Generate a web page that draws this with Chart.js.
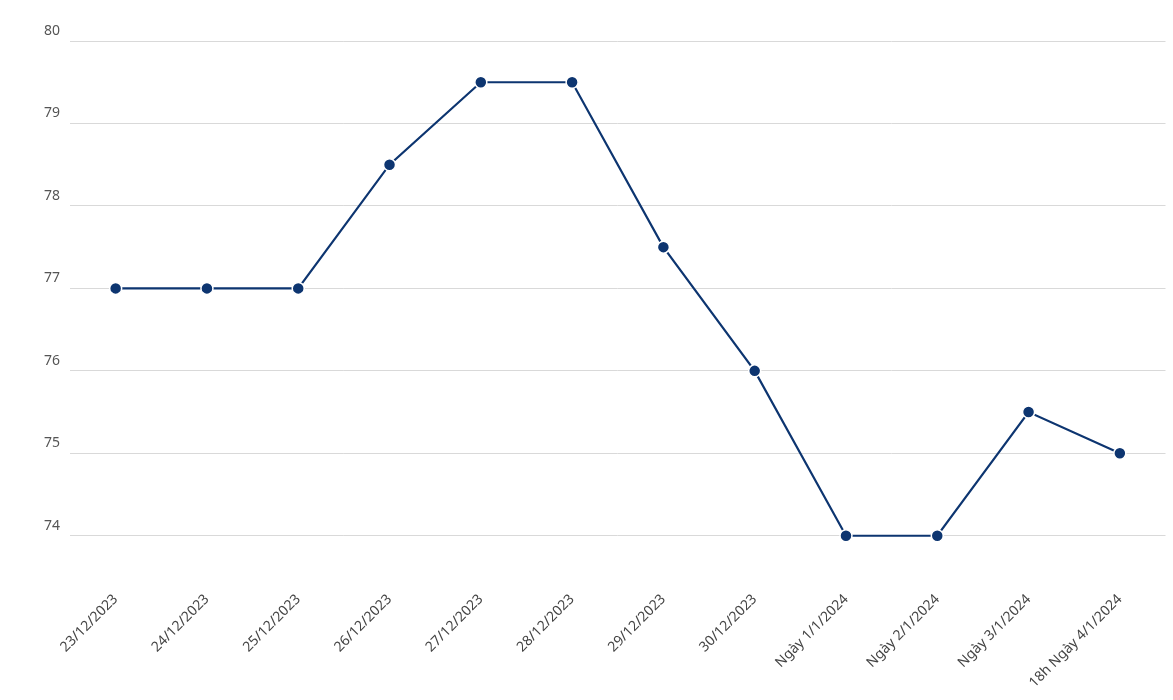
<!DOCTYPE html>
<html><head><meta charset="utf-8">
<script src="https://cdn.jsdelivr.net/npm/chart.js@4"></script>
<style>html,body{margin:0;padding:0;background:#fff}#w{width:1173px;height:700px}</style>
</head><body><div id="w"><canvas id="c"></canvas></div>
<script>
const categories=["23/12/2023","24/12/2023","25/12/2023","26/12/2023","27/12/2023","28/12/2023","29/12/2023","30/12/2023","Ngày 1/1/2024","Ngày 2/1/2024","Ngày 3/1/2024","18h Ngày 4/1/2024"];
const values=[77,77,77,78.5,79.5,79.5,77.5,76,74,74,75.5,75];
const yTicks=[74,75,76,77,78,79,80];
new Chart(document.getElementById('c'),{
type:'line',
data:{labels:categories,datasets:[{data:values,borderColor:'#0d3570',borderWidth:2.2,pointBackgroundColor:'#0d3570',pointBorderColor:'#fff',pointBorderWidth:1.5,pointRadius:6,tension:0}]},
options:{responsive:true,maintainAspectRatio:false,animation:false,
layout:{padding:{left:44,top:41,right:4,bottom:8}},
plugins:{legend:{display:false},tooltip:{enabled:false}},
scales:{
x:{offset:true,grid:{display:false},border:{display:false},
afterFit:a=>{a.height=115;},
ticks:{color:'#444',font:{family:'Noto Sans',size:14},maxRotation:45,minRotation:45,autoSkip:false,padding:6}},
y:{min:73.5,max:80,afterBuildTicks:a=>{a.ticks=yTicks.map(v=>({value:v}));},
afterFit:a=>{a.width=26;},
grid:{color:'#d9d9d9',drawTicks:false},border:{display:false},
ticks:{color:'#555',font:{family:'Noto Sans',size:14},crossAlign:'far',labelOffset:-10,padding:0}}
}}});
</script></body></html>
